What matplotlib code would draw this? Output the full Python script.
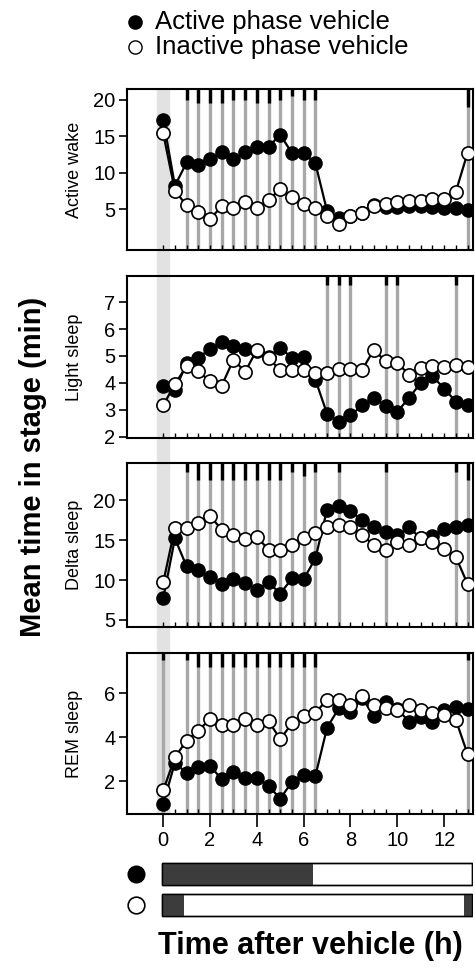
import matplotlib
matplotlib.use("Agg")
import matplotlib.pyplot as plt
from matplotlib.lines import Line2D
from matplotlib.patches import Rectangle

plt.rcParams["font.family"] = ["Liberation Sans", "DejaVu Sans"]

# time after vehicle (h), one point per half hour
hours = [0.0, 0.5, 1.0, 1.5, 2.0, 2.5, 3.0, 3.5, 4.0, 4.5, 5.0, 5.5, 6.0, 6.5,
         7.0, 7.5, 8.0, 8.5, 9.0, 9.5, 10.0, 10.5, 11.0, 11.5, 12.0, 12.5, 13.0]

wake_active = [17.3, 8.2, 11.4, 11.0, 11.9, 12.8, 11.9, 12.8, 13.6, 13.6, 15.2, 12.7, 12.7, 11.3,
               4.7, 3.7, 4.0, 4.5, 5.5, 5.3, 5.3, 5.4, 5.4, 5.3, 5.1, 5.1, 4.8]
wake_inactive = [15.4, 7.5, 5.5, 4.6, 3.6, 5.4, 5.2, 5.9, 5.1, 6.3, 7.7, 6.6, 5.7, 5.1,
                 4.0, 2.9, 4.0, 4.4, 5.4, 5.7, 5.9, 6.1, 6.1, 6.4, 6.4, 7.4, 12.7]

light_active = [3.88, 3.73, 4.72, 4.93, 5.26, 5.51, 5.36, 5.27, 5.2, 4.95, 5.30, 4.93, 4.96, 4.12,
                2.85, 2.56, 2.79, 3.16, 3.44, 3.14, 2.93, 3.44, 4.0, 4.25, 3.79, 3.30, 3.16]
light_inactive = [3.16, 3.96, 4.62, 4.43, 4.06, 3.90, 4.86, 4.41, 5.23, 4.93, 4.46, 4.46, 4.46, 4.35,
                  4.37, 4.53, 4.52, 4.49, 5.23, 4.80, 4.74, 4.31, 4.56, 4.62, 4.59, 4.68, 4.58]

delta_active = [7.7, 15.2, 11.7, 11.2, 10.4, 9.5, 10.1, 9.6, 8.8, 9.7, 8.3, 10.2, 10.1, 12.7,
                18.8, 19.2, 18.6, 17.5, 16.6, 16.0, 15.6, 16.6, 15.2, 15.5, 16.4, 16.6, 16.9]
delta_inactive = [9.7, 16.5, 16.5, 17.1, 18.0, 16.3, 15.6, 15.1, 15.4, 13.8, 13.8, 14.4, 15.2, 15.9,
                  16.6, 16.9, 16.6, 15.6, 14.4, 13.8, 14.7, 14.4, 15.2, 14.7, 13.9, 12.9, 9.5]

rem_active = [0.97, 2.85, 2.36, 2.67, 2.70, 2.09, 2.41, 2.14, 2.14, 1.80, 1.20, 1.98, 2.29, 2.24,
              4.44, 5.32, 5.17, 5.77, 4.97, 5.59, 5.29, 4.71, 4.91, 4.71, 5.24, 5.39, 5.29]
rem_inactive = [1.58, 3.09, 3.85, 4.30, 4.83, 4.56, 4.56, 4.82, 4.56, 4.74, 3.91, 4.64, 4.97, 5.12,
                5.70, 5.70, 5.47, 5.88, 5.47, 5.32, 5.24, 5.47, 5.24, 5.09, 5.02, 4.79, 3.24]

# significant time points and the length of their black marks (px)
wake_sig = [1.0, 1.5, 2.0, 2.5, 3.0, 3.5, 4.0, 4.5, 5.0, 5.5, 6.0, 6.5, 13.0]
wake_caps = [10.7, 13.3, 13.3, 13.3, 10.7, 10.7, 13.3, 13.3, 10.7, 6.7, 10.7, 10.7, 17.7]
light_sig = [7.0, 7.5, 8.0, 9.5, 10.0, 12.5]
light_caps = [9.0, 9.0, 9.0, 9.0, 9.0, 9.0]
delta_sig = [1.0, 1.5, 2.0, 2.5, 3.0, 3.5, 4.0, 4.5, 5.0, 5.5, 6.0, 6.5, 7.5, 9.5, 12.5, 13.0]
delta_caps = [8.3, 16.7, 16.7, 16.7, 16.7, 16.7, 16.7, 16.7, 16.7, 8.3, 12.3, 8.3, 8.3, 8.3, 8.3, 16.7]
rem_sig = [0.0, 1.0, 1.5, 2.0, 2.5, 3.0, 3.5, 4.0, 4.5, 5.0, 5.5, 6.0, 6.5, 13.0]
rem_caps = [6.7, 6.7, 14.0, 14.0, 14.0, 14.0, 14.0, 14.0, 14.0, 14.0, 14.0, 14.0, 14.0, 6.7]

stage_names = ["Active wake", "Light sleep", "Delta sleep", "REM sleep"]
stage_yticks = [[5, 10, 15, 20], [2, 3, 4, 5, 6, 7], [5, 10, 15, 20], [2, 4, 6]]
stage_ylims = [(-0.64, 21.47), (1.94, 7.97), (4.16, 24.6), (0.51, 7.82)]
x_ticks = [0, 2, 4, 6, 8, 10, 12]

# dark phase bars under the plot
bar_span = (-0.05, 13.2)
active_dark = [(-0.05, 6.4)]
inactive_dark = [(-0.05, 0.9), (12.85, 13.2)]

W, H = 475, 968
XLIM = (-1.56, 13.22)
GRAY = "#a8a8a8"

fig = plt.figure(figsize=(W / 100, H / 100), dpi=100)


def px_axes(left, top, right, bottom):
    return fig.add_axes([left / W, 1 - bottom / H, (right - left) / W, (bottom - top) / H])


rows = [(89.3, 250.0), (276.0, 438.3), (463.3, 626.7), (653.3, 814.0)]
series = [(wake_active, wake_inactive, wake_sig, wake_caps),
          (light_active, light_inactive, light_sig, light_caps),
          (delta_active, delta_inactive, delta_sig, delta_caps),
          (rem_active, rem_inactive, rem_sig, rem_caps)]

axes = []
for i, ((top, bottom), (act, inact, sig, caps)) in enumerate(zip(rows, series)):
    ax = px_axes(126.7, top, 472.7, bottom)
    axes.append(ax)
    ax.set_facecolor("none")
    ax.set_xlim(*XLIM)
    ax.set_ylim(*stage_ylims[i])
    panel_h = bottom - top
    for x, cap in zip(sig, caps):
        ax.axvline(x, color=GRAY, lw=2.4, zorder=1, solid_capstyle="butt")
        ax.plot([x, x], [1 - cap / panel_h, 1], transform=ax.get_xaxis_transform(),
                color="black", lw=2.4, solid_capstyle="butt", zorder=1.5)
    ax.plot(hours, act, "-o", color="black", mfc="black", mec="black",
            ms=9.5, lw=1.6, zorder=3)
    ax.plot(hours, inact, "-o", color="black", mfc="white", mec="black",
            mew=1.2, ms=9.5, lw=1.6, zorder=4)

    ax.set_yticks(stage_yticks[i])
    ax.tick_params(axis="y", direction="out", length=6, width=1.2, labelsize=14.5, pad=2)
    ax.set_xticks(hours, minor=True)
    ax.tick_params(axis="x", which="minor", direction="in", length=3.5, width=1)
    if i < 3:
        ax.set_xticks([])
    else:
        ax.set_xticks(x_ticks)
        ax.tick_params(axis="x", which="major", direction="out", length=9,
                       width=1.2, labelsize=14.5, pad=3)
    for s in ax.spines.values():
        s.set_linewidth(1.5)
    ax.set_ylabel(stage_names[i], fontsize=13)
    ax.yaxis.set_label_coords(-0.127, 0.5)

# light grey band at vehicle time, spanning all panels
xd = axes[0].transData.transform([(-0.25, 0), (0.25, 0)])[:, 0] / fig.bbox.width
y_bot = 1 - rows[-1][1] / H
y_top = 1 - rows[0][0] / H
fig.add_artist(Rectangle((xd[0], y_bot), xd[1] - xd[0], y_top - y_bot,
                         transform=fig.transFigure, color="#e2e2e2", zorder=-1))

# phase bars
axb = px_axes(126.7, 858.95, 472.7, 920.35)
axb.set_xlim(*XLIM)
axb.set_ylim(-0.5, 1.5)
axb.axis("off")
for y, dark in [(1, active_dark), (0, inactive_dark)]:
    axb.barh(y, bar_span[1] - bar_span[0], left=bar_span[0], height=0.72,
             color="white", edgecolor="black", lw=1.0, zorder=1)
    for a, b in dark:
        axb.barh(y, b - a, left=a, height=0.72, color="#3c3c3c", lw=0, zorder=2)
    axb.barh(y, bar_span[1] - bar_span[0], left=bar_span[0], height=0.72,
             color="none", edgecolor="black", lw=1.0, zorder=3)
axb.plot([-1.17], [1], "o", ms=12, color="black", clip_on=False)
axb.plot([-1.17], [0], "o", ms=12, mfc="white", mec="black", mew=1.2, clip_on=False)

# legend
fig.add_artist(Line2D([135 / W], [1 - 21.7 / H], marker="o", ms=9.5, color="black",
                      transform=fig.transFigure))
fig.add_artist(Line2D([135 / W], [1 - 46.7 / H], marker="o", ms=9.5, mfc="white",
                      mec="black", mew=1.0, transform=fig.transFigure))
fig.text(155 / W, 1 - 29 / H, "Active phase vehicle", fontsize=18.5, va="baseline")
fig.text(155 / W, 1 - 54 / H, "Inactive phase vehicle", fontsize=18.5, va="baseline")

fig.text(33 / W, 1 - 467 / H, "Mean time in stage (min)", fontsize=21,
         fontweight="bold", rotation=90, ha="center", va="center")
fig.text(310 / W, 1 - 946 / H, "Time after vehicle (h)", fontsize=22,
         fontweight="bold", ha="center", va="center")

fig.savefig("out.png", dpi=100)
